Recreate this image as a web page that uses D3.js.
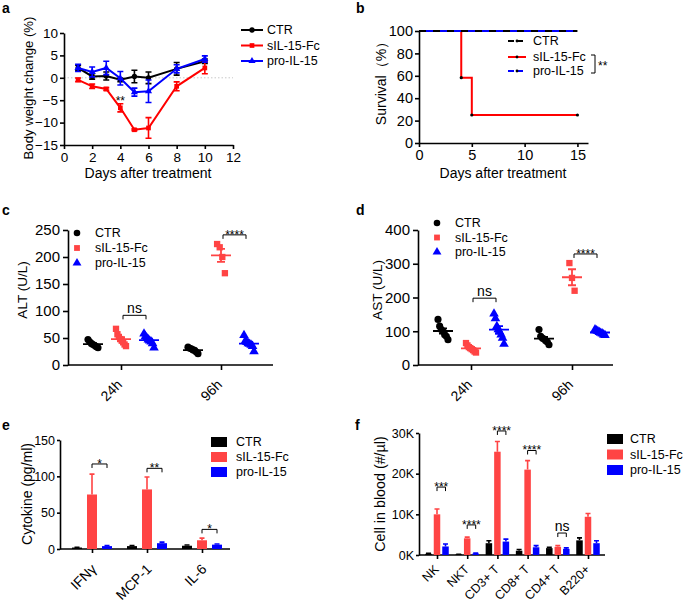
<!DOCTYPE html>
<html lang="en">
<head>
<meta charset="UTF-8">
<title>IL-15 toxicity panels</title>
<script src="https://d3js.org/d3.v7.min.js"></script>
<style>
  body { margin: 0; background: #fff; }
  svg { display: block; background: #fff; }
  text { fill: #000; }
</style>
</head>
<body>
<svg width="685" height="605"></svg>
<script>
// ---------- shared ----------
const groupNames = ["CTR", "sIL-15-Fc", "pro-IL-15"];
const groupColors = ["#000000", "#ff4444", "#0000ff"];
const lineColors = ["#000000", "#ff0000", "#0000ff"];
const groupSymbols = [d3.symbolCircle, d3.symbolSquare, d3.symbolTriangle];

// ---------- a: body weight ----------
const weightDays = [1, 2, 3, 4, 5, 6, 8, 10];
const weightCTR = [2.2, 0.3, 0.4, -0.45, 0.3, 0, 2.0, 3.7];
const weightCTRSem = [0.6, 0.6, 0.9, 0.4, 1.4, 1.3, 1.4, 0.5];
const weightFc = [-0.45, -1.9, -2.5, -6.7, -11.6, -11.2, -1.9, 2.2];
const weightFcSem = [0.4, 0.5, 0.3, 0.9, 0.2, 2.3, 1.0, 1.3];
const weightPro = [2.2, 1.3, 2.2, -0.1, -3.2, -3.0, 2.0, 4.2];
const weightProSem = [0.8, 1.1, 1.5, 1.5, 0.9, 2.5, 0.9, 0.7];

// ---------- b: survival ----------
const survivalDays = [0, 4, 5, 15];
const survivalCTR = [100, 100, 100, 100];
const survivalFc = [100, 58.3, 25, 25];
const survivalPro = [100, 100, 100, 100];

// ---------- c / d: liver enzymes ----------
const timePoints = ["24h", "96h"];
const altCTR = [[47, 43, 40, 38, 36, 34, 32], [33, 31, 30, 28, 27, 24, 21]];
const altFc = [[67, 57, 52, 48, 45, 42, 38, 35], [224, 218, 200, 170]];
const altPro = [[58, 53, 50, 47, 45, 43, 40, 32], [55, 45, 42, 40, 39, 37, 35, 25]];
const astCTR = [[135, 115, 105, 100, 90, 85, 75], [105, 85, 80, 77, 72, 68, 60]];
const astFc = [[65, 58, 53, 50, 47, 44, 40, 37], [302, 258, 220]];
const astPro = [[152, 138, 115, 105, 98, 90, 80, 62], [105, 102, 100, 97, 95, 93, 90, 88]];

// ---------- e: cytokines ----------
const cytokines = ["IFNγ", "MCP-1", "IL-6"];
const cytoCTR = [2, 4, 4.5];
const cytoCTRSem = [0.5, 0.8, 1];
const cytoFc = [75, 82, 12];
const cytoFcSem = [28, 17, 3];
const cytoPro = [4, 8, 6];
const cytoProSem = [0.6, 1.5, 0.8];
const cytoSigLabels = ["*", "**", "*"];
const cytoSigLevels = [117, 111, 27];

// ---------- f: blood cells ----------
const cellTypes = ["NK", "NKT", "CD3+ T", "CD8+ T", "CD4+ T", "B220+"];
const cellCTR = [300, 150, 2900, 1050, 1700, 3600];
const cellCTRSem = [100, 50, 600, 300, 200, 600];
const cellFc = [10000, 4100, 25400, 21000, 2000, 9400];
const cellFcSem = [1300, 300, 2500, 2200, 300, 800];
const cellPro = [2100, 350, 3300, 1900, 1500, 2900];
const cellProSem = [600, 100, 600, 400, 250, 600];
const cellSigLabels = ["***", "****", "****", "****", "ns", ""];
const cellSigLevels = [16700, 7400, 30500, 25700, 5400, null];

const FONT = '"Liberation Sans", Arial, Helvetica, sans-serif';
const svg = d3.select("svg").attr("font-family", FONT);

function styleAxis(g, size) {
  g.attr("font-family", FONT).attr("font-size", size);
  g.select(".domain").attr("stroke-width", 1.6);
  g.selectAll(".tick line").attr("stroke-width", 1.6);
  g.selectAll(".tick text").attr("fill", "#000");
}

function rotateLabels(g, dx, dy) {
  g.selectAll(".tick text")
    .attr("x", 0).attr("y", 0).attr("dy", "0.35em")
    .attr("text-anchor", "end")
    .attr("transform", `translate(${dx},${dy}) rotate(-45)`);
}

function letter(t, x, y) {
  svg.append("text").attr("x", x).attr("y", y)
    .attr("font-size", 14).attr("font-weight", "bold").text(t);
}

function yTitle(t, x, y, size) {
  svg.append("text").attr("transform", `translate(${x},${y}) rotate(-90)`)
    .attr("text-anchor", "middle").attr("dy", "0.35em")
    .attr("font-size", size).text(t);
}

function bracket(g, x1, x2, yy, label) {
  g.append("path").attr("d", `M${x1},${yy + 4}V${yy}H${x2}V${yy + 4}`)
    .attr("fill", "none").attr("stroke", "#000").attr("stroke-width", 1);
  const isStar = label.indexOf("*") >= 0;
  g.append("text").attr("x", (x1 + x2) / 2)
    .attr("y", isStar ? yy + 4 : yy - 2)
    .attr("text-anchor", "middle")
    .attr("font-size", isStar ? 12 : 14).text(label);
}

// ================= panel a =================
(function () {
  const g = svg.append("g");
  const x = d3.scaleLinear().domain([0, 12]).range([64, 233]);
  const y = d3.scaleLinear().domain([-15, 10]).range([145, 33]);

  g.append("line").attr("x1", x(0)).attr("x2", x(12)).attr("y1", y(0)).attr("y2", y(0))
    .attr("stroke", "#c8c8c8").attr("stroke-dasharray", "1.5,2");

  styleAxis(g.append("g").attr("transform", `translate(0,${y(-15)})`)
    .call(d3.axisBottom(x).tickValues(d3.range(0, 13, 2)).tickSize(4).tickPadding(3).tickSizeOuter(0)), 13.5);
  styleAxis(g.append("g").attr("transform", `translate(${x(0)},0)`)
    .call(d3.axisLeft(y).tickValues(d3.range(-15, 11, 5)).tickSize(4).tickPadding(2).tickSizeOuter(0)), 13.5);

  const series = [
    { mean: weightCTR, sem: weightCTRSem },
    { mean: weightFc, sem: weightFcSem },
    { mean: weightPro, sem: weightProSem }
  ];
  const line = d3.line().x((d, i) => x(weightDays[i])).y(d => y(d));
  series.forEach((s, gi) => {
    const c = lineColors[gi];
    g.append("path").datum(s.mean).attr("d", line)
      .attr("fill", "none").attr("stroke", c).attr("stroke-width", 2);
    s.mean.forEach((m, i) => {
      const cx = x(weightDays[i]);
      g.append("path")
        .attr("d", `M${cx},${y(m - s.sem[i])}V${y(m + s.sem[i])}M${cx - 3},${y(m - s.sem[i])}h6M${cx - 3},${y(m + s.sem[i])}h6`)
        .attr("stroke", c).attr("stroke-width", 1.6).attr("fill", "none");
      g.append("path").attr("transform", `translate(${cx},${y(m)})`)
        .attr("d", d3.symbol().type(groupSymbols[gi]).size(22)()).attr("fill", c);
    });
  });
  g.append("text").attr("x", x(4)).attr("y", y(weightFc[3] + weightFcSem[3]) + 1)
    .attr("text-anchor", "middle").attr("font-size", 12).attr("fill", "#333").text("**");

  // legend
  groupNames.forEach((n, i) => {
    const ly = 30 + i * 15.5;
    g.append("line").attr("x1", 241).attr("x2", 263).attr("y1", ly).attr("y2", ly)
      .attr("stroke", lineColors[i]).attr("stroke-width", 2);
    g.append("path").attr("transform", `translate(252,${ly})`)
      .attr("d", d3.symbol().type(groupSymbols[i]).size(22)()).attr("fill", lineColors[i]);
    g.append("text").attr("x", 267).attr("y", ly).attr("dy", "0.35em").attr("font-size", 12.5).text(n);
  });

  g.append("text").attr("x", 148).attr("y", 178).attr("text-anchor", "middle").attr("font-size", 14)
    .text("Days after treatment");
  yTitle("Body weight change (%)", 28, 88, 13.2);
  letter("a", 2, 13);
})();

// ================= panel b =================
(function () {
  const g = svg.append("g");
  const x = d3.scaleLinear().domain([0, 16]).range([419, 588]);
  const y = d3.scaleLinear().domain([0, 100]).range([143, 31]);

  styleAxis(g.append("g").attr("transform", `translate(0,${y(0)})`)
    .call(d3.axisBottom(x).tickValues([0, 5, 10, 15]).tickSize(4).tickPadding(3).tickSizeOuter(0)), 14.5);
  styleAxis(g.append("g").attr("transform", `translate(${x(0)},0)`)
    .call(d3.axisLeft(y).tickValues(d3.range(0, 101, 20)).tickSize(4).tickPadding(2).tickSizeOuter(0)), 14.5);

  const step = d3.line().curve(d3.curveStepAfter).x((d, i) => x(survivalDays[i])).y(d => y(d));
  g.append("path").datum(survivalFc).attr("d", step).attr("fill", "none")
    .attr("stroke", lineColors[1]).attr("stroke-width", 2);
  g.append("path").datum(survivalCTR).attr("d", step).attr("fill", "none")
    .attr("stroke", lineColors[0]).attr("stroke-width", 2).attr("stroke-dasharray", "7,7");
  g.append("path").datum(survivalPro).attr("d", step).attr("fill", "none")
    .attr("stroke", lineColors[2]).attr("stroke-width", 2).attr("stroke-dasharray", "7,7")
    .attr("stroke-dashoffset", -7);
  survivalFc.slice(1).forEach((v, i) => {
    g.append("circle").attr("cx", x(survivalDays[i + 1])).attr("cy", y(v)).attr("r", 1.6).attr("fill", "#000");
  });

  const rows = [41, 57, 71];
  const dashes = ["6,3", null, "6,3"];
  groupNames.forEach((n, i) => {
    g.append("line").attr("x1", 508).attr("x2", 526).attr("y1", rows[i]).attr("y2", rows[i])
      .attr("stroke", lineColors[i]).attr("stroke-width", 2).attr("stroke-dasharray", dashes[i]);
    g.append("circle").attr("cx", 517).attr("cy", rows[i]).attr("r", 1.4).attr("fill", "#000");
    g.append("text").attr("x", 533).attr("y", rows[i]).attr("dy", "0.35em").attr("font-size", 12.5).text(n);
  });
  g.append("path").attr("d", "M591,55H595V73H591").attr("fill", "none").attr("stroke", "#000").attr("stroke-width", 1);
  g.append("text").attr("x", 598).attr("y", 70).attr("font-size", 12).text("**");

  g.append("text").attr("x", 503).attr("y", 178).attr("text-anchor", "middle").attr("font-size", 14)
    .text("Days after treatment");
  yTitle("Survival（%）", 381, 80, 14);
  letter("b", 356, 13);
})();

// ================= panels c, d =================
function dotPanel(p) {
  const g = svg.append("g");
  const x = d3.scalePoint().domain(timePoints).range(p.xRange);
  const sub = d3.scalePoint().domain(groupNames).range([-28, 28]);
  const y = d3.scaleLinear().domain([0, p.yMax]).range(p.yRange);

  const xa = g.append("g").attr("transform", `translate(0,${p.yRange[0]})`)
    .call(d3.axisBottom(x).tickSize(5).tickSizeOuter(0));
  xa.select(".domain").attr("d", `M${p.axisX[0]},0H${p.axisX[1]}`);
  styleAxis(xa, 14);
  rotateLabels(xa, -2, 17);
  styleAxis(g.append("g").attr("transform", `translate(${p.axisX[0]},0)`)
    .call(d3.axisLeft(y).tickValues(p.yTicks).tickSize(5).tickPadding(3).tickSizeOuter(0)), 15);

  p.series.forEach((vals, gi) => {
    const c = groupColors[gi];
    vals.forEach((pts, ti) => {
      const cx = x(timePoints[ti]) + sub(groupNames[gi]);
      const sorted = pts.slice().sort((a, b) => b - a);
      const n = sorted.length;
      const spread = Math.min(2.6, 10 / (n - 1));
      sorted.forEach((v, k) => {
        g.append("path").attr("transform", `translate(${cx + (k - (n - 1) / 2) * spread},${y(v)})`)
          .attr("d", d3.symbol().type(groupSymbols[gi]).size(40)()).attr("fill", c);
      });
      const m = d3.mean(pts), se = d3.deviation(pts) / Math.sqrt(n);
      g.append("path")
        .attr("d", `M${cx - 10},${y(m)}h20M${cx},${y(m - se)}V${y(m + se)}M${cx - 4},${y(m - se)}h8M${cx - 4},${y(m + se)}h8`)
        .attr("stroke", c).attr("stroke-width", 1.8).attr("fill", "none");
    });
  });

  p.brackets.forEach(b => {
    const t = timePoints[b.t];
    bracket(g, x(t) + sub(groupNames[1]) + 2, x(t) + sub(groupNames[2]) - 3, y(b.level), b.label);
  });

  groupNames.forEach((n, i) => {
    const ly = p.legend[1] + i * p.legend[3];
    g.append("path").attr("transform", `translate(${p.legend[0]},${ly})`)
      .attr("d", d3.symbol().type(groupSymbols[i]).size(34)()).attr("fill", groupColors[i]);
    g.append("text").attr("x", p.legend[2]).attr("y", ly).attr("dy", "0.35em").attr("font-size", 12.5).text(n);
  });
}

dotPanel({
  xRange: [121, 221], axisX: [68, 273], yRange: [365, 230], yMax: 250, yTicks: d3.range(0, 251, 50),
  series: [altCTR, altFc, altPro],
  brackets: [{ t: 0, level: 92, label: "ns" }, { t: 1, level: 241, label: "****" }],
  legend: [77, 233, 95, 15]
});
yTitle("ALT (U/L)", 22, 290, 13.5);
letter("c", 2, 215);

dotPanel({
  xRange: [471, 572], axisX: [418, 613], yRange: [365, 230], yMax: 400, yTicks: d3.range(0, 401, 100),
  series: [astCTR, astFc, astPro],
  brackets: [{ t: 0, level: 198, label: "ns" }, { t: 1, level: 329, label: "****" }],
  legend: [437, 223, 455, 14.5]
});
yTitle("AST (U/L)", 377, 290, 13.5);
letter("d", 356, 215);

// ================= panels e, f =================
function barPanel(p) {
  const g = svg.append("g");
  const x = d3.scalePoint().domain(p.cats).range(p.xRange);
  const sub = d3.scalePoint().domain(groupNames).range([-p.off, p.off]);
  const y = d3.scaleLinear().domain([0, p.yMax]).range(p.yRange);

  const xa = g.append("g").attr("transform", `translate(0,${p.yRange[0]})`)
    .call(d3.axisBottom(x).tickSize(4).tickSizeOuter(0));
  xa.select(".domain").attr("d", `M${p.axisX[0]},0H${p.axisX[1]}`);
  styleAxis(xa, p.labelSize);
  rotateLabels(xa, p.labelShift[0], p.labelShift[1]);
  styleAxis(g.append("g").attr("transform", `translate(${p.axisX[0]},0)`)
    .call(d3.axisLeft(y).tickValues(p.yTicks).tickFormat(p.fmt).tickSize(3).tickPadding(2).tickSizeOuter(0)), 12.5);

  p.series.forEach((s, gi) => {
    const c = groupColors[gi];
    s.mean.forEach((m, i) => {
      const cx = x(p.cats[i]) + sub(groupNames[gi]);
      g.append("path")
        .attr("d", `M${cx},${y(m)}V${y(m + s.sem[i])}M${cx - 2.5},${y(m + s.sem[i])}h5`)
        .attr("stroke", c).attr("stroke-width", 1.6).attr("fill", "none");
      g.append("rect").attr("x", cx - p.bw / 2).attr("width", p.bw)
        .attr("y", y(m)).attr("height", y(0) - y(m)).attr("fill", c);
    });
  });

  p.sigLabels.forEach((lab, i) => {
    if (!lab) return;
    const c = p.cats[i];
    bracket(g, x(c) + sub(groupNames[1]), x(c) + sub(groupNames[2]), y(p.sigLevels[i]), lab);
  });

  groupNames.forEach((n, i) => {
    const ly = p.legend[1] + i * p.legend[3];
    g.append("rect").attr("x", p.legend[0]).attr("y", ly - 5).attr("width", 16).attr("height", 10)
      .attr("fill", groupColors[i]);
    g.append("text").attr("x", p.legend[2]).attr("y", ly).attr("dy", "0.35em").attr("font-size", 12.5).text(n);
  });
}

barPanel({
  cats: cytokines, xRange: [92, 202], axisX: [60, 230], yRange: [549, 440], yMax: 150,
  yTicks: [0, 50, 100, 150], fmt: d3.format("d"), off: 15, bw: 10,
  labelSize: 14, labelShift: [1.5, 17.5],
  series: [
    { mean: cytoCTR, sem: cytoCTRSem },
    { mean: cytoFc, sem: cytoFcSem },
    { mean: cytoPro, sem: cytoProSem }
  ],
  sigLabels: cytoSigLabels, sigLevels: cytoSigLevels,
  legend: [211, 442, 236, 15]
});
yTitle("Cytokine (pg/ml)", 27, 494, 14);
letter("e", 2, 430);

barPanel({
  cats: cellTypes, xRange: [437, 588], axisX: [419, 605], yRange: [555, 433], yMax: 30000,
  yTicks: [0, 10000, 20000, 30000], fmt: d => d / 1000 + "K", off: 8.5, bw: 6.5,
  labelSize: 12.5, labelShift: [-1, 12],
  series: [
    { mean: cellCTR, sem: cellCTRSem },
    { mean: cellFc, sem: cellFcSem },
    { mean: cellPro, sem: cellProSem }
  ],
  sigLabels: cellSigLabels, sigLevels: cellSigLevels,
  legend: [607, 439, 630, 15.5]
});
yTitle("Cell in blood (#/µl)", 380, 494, 14.3);
letter("f", 355, 430);
</script>
</body>
</html>
